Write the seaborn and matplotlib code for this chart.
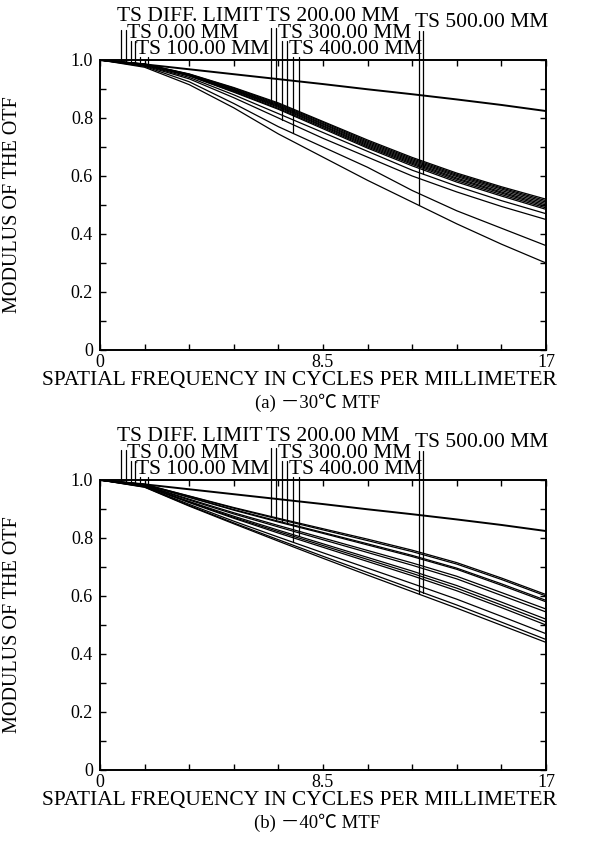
import numpy as np
import pandas as pd
import matplotlib
matplotlib.use("Agg")
import matplotlib.pyplot as plt
import seaborn as sns

# ---------------- data ----------------
freq = [0, 1.7, 3.4, 5.1, 6.8, 8.5, 10.2, 11.9, 13.6, 15.3, 17]
diff_limit = [1.0, 0.985, 0.968, 0.951, 0.934, 0.917, 0.899, 0.882, 0.864, 0.845, 0.824]

# panel (a) -30C : tangential / sagittal for each field
a_0_T = [1.0, 0.986, 0.952, 0.905, 0.852, 0.788, 0.724, 0.664, 0.610, 0.563, 0.520]
a_0_S = [1.0, 0.986, 0.951, 0.903, 0.849, 0.785, 0.720, 0.660, 0.606, 0.559, 0.515]
a_100_T = [1.0, 0.985, 0.950, 0.900, 0.846, 0.781, 0.716, 0.656, 0.602, 0.555, 0.510]
a_100_S = [1.0, 0.985, 0.949, 0.898, 0.843, 0.778, 0.712, 0.652, 0.598, 0.550, 0.505]
a_200_T = [1.0, 0.985, 0.948, 0.896, 0.840, 0.774, 0.708, 0.648, 0.593, 0.545, 0.500]
a_200_S = [1.0, 0.984, 0.947, 0.894, 0.837, 0.771, 0.704, 0.644, 0.589, 0.541, 0.495]
a_300_T = [1.0, 0.980, 0.935, 0.870, 0.800, 0.730, 0.665, 0.600, 0.545, 0.495, 0.450]
a_300_S = [1.0, 0.984, 0.946, 0.891, 0.833, 0.767, 0.700, 0.640, 0.584, 0.536, 0.490]
a_400_T = [1.0, 0.978, 0.925, 0.850, 0.770, 0.700, 0.630, 0.550, 0.480, 0.420, 0.360]
a_400_S = [1.0, 0.984, 0.945, 0.889, 0.830, 0.763, 0.696, 0.635, 0.579, 0.531, 0.485]
a_500_T = [1.0, 0.975, 0.915, 0.835, 0.745, 0.665, 0.585, 0.510, 0.435, 0.365, 0.300]
a_500_S = [1.0, 0.982, 0.940, 0.880, 0.815, 0.750, 0.685, 0.620, 0.565, 0.515, 0.470]

# panel (b) -40C
b_0_T = [1.0, 0.982, 0.934, 0.887, 0.843, 0.800, 0.757, 0.714, 0.668, 0.612, 0.555]
b_0_S = [1.0, 0.981, 0.931, 0.883, 0.838, 0.794, 0.750, 0.706, 0.659, 0.602, 0.545]
b_100_T = [1.0, 0.979, 0.924, 0.871, 0.822, 0.774, 0.726, 0.678, 0.627, 0.569, 0.510]
b_100_S = [1.0, 0.979, 0.922, 0.868, 0.817, 0.768, 0.719, 0.670, 0.618, 0.560, 0.500]
b_200_T = [1.0, 0.985, 0.945, 0.905, 0.868, 0.832, 0.796, 0.758, 0.715, 0.662, 0.605]
b_200_S = [1.0, 0.985, 0.944, 0.903, 0.865, 0.828, 0.791, 0.753, 0.710, 0.657, 0.600]
b_300_T = [1.0, 0.984, 0.941, 0.898, 0.858, 0.819, 0.780, 0.740, 0.696, 0.642, 0.585]
b_300_S = [1.0, 0.984, 0.940, 0.896, 0.855, 0.816, 0.776, 0.736, 0.692, 0.637, 0.580]
b_400_T = [1.0, 0.977, 0.916, 0.858, 0.803, 0.749, 0.696, 0.643, 0.589, 0.530, 0.470]
b_400_S = [1.0, 0.980, 0.926, 0.875, 0.827, 0.780, 0.733, 0.686, 0.636, 0.579, 0.520]
b_500_T = [1.0, 0.975, 0.910, 0.849, 0.789, 0.730, 0.672, 0.615, 0.558, 0.499, 0.440]
b_500_S = [1.0, 0.976, 0.912, 0.852, 0.794, 0.737, 0.681, 0.625, 0.569, 0.510, 0.450]

legend_labels = ["TS DIFF. LIMIT", "TS 0.00 MM", "TS 100.00 MM", "TS 200.00 MM",
                 "TS 300.00 MM", "TS 400.00 MM", "TS 500.00 MM"]
x_ticks = [0, 1.7, 3.4, 5.1, 6.8, 8.5, 10.2, 11.9, 13.6, 15.3, 17]
x_tick_labels = ["0", "", "", "", "", "8.5", "", "", "", "", "17"]
y_ticks = [0, 0.1, 0.2, 0.3, 0.4, 0.5, 0.6, 0.7, 0.8, 0.9, 1.0]
y_tick_labels = ["0", "", "0.2", "", "0.4", "", "0.6", "", "0.8", "", "1.0"]
captions = ["(a) \uff0d30\u2103 MTF", "(b) \uff0d40\u2103 MTF"]

panel_a = [(a_0_T, a_0_S), (a_100_T, a_100_S), (a_200_T, a_200_S),
           (a_300_T, a_300_S), (a_400_T, a_400_S), (a_500_T, a_500_S)]
panel_b = [(b_0_T, b_0_S), (b_100_T, b_100_S), (b_200_T, b_200_S),
           (b_300_T, b_300_S), (b_400_T, b_400_S), (b_500_T, b_500_S)]

# ---------------- layout (positions of legend markers) ----------------
marker_x = [(0.80, 0.99), (1.18, 1.33), (1.52, 1.83), (6.50, 6.72),
            (6.94, 7.14), (7.36, 7.57), (12.16, 12.31)]
label_base = [1.134, 1.076, 1.021, 1.134, 1.076, 1.021, 1.114]
marker_top = [1.103, 1.065, 1.010, 1.110, 1.065, 1.010, 1.100]

sns.set_theme(style="ticks")
plt.rcParams["font.family"] = ["Liberation Serif", "Noto Sans CJK SC", "DejaVu Sans"]
plt.rcParams["axes.linewidth"] = 1.4
plt.rcParams["text.color"] = "black"
plt.rcParams["axes.labelcolor"] = "black"
plt.rcParams["xtick.color"] = "black"
plt.rcParams["ytick.color"] = "black"
plt.rcParams["axes.edgecolor"] = "black"

fig = plt.figure(figsize=(6.0, 8.41), dpi=100)
W, H = 600.0, 841.0
axes_px = [(60, 350), (480, 770)]  # top, bottom pixel rows
panels = [panel_a, panel_b]

for (top, bot), pdata, cap in zip(axes_px, panels, captions):
    ax = fig.add_axes([100 / W, (H - bot) / H, 446 / W, (bot - top) / H])
    ax.set_facecolor("white")
    # curves
    sns.lineplot(x=freq, y=diff_limit, ax=ax, color="black", lw=1.4,
                 estimator=None, sort=False)
    for t_vals, s_vals in pdata:
        for vals in (t_vals, s_vals):
            sns.lineplot(x=freq, y=vals, ax=ax, color="black", lw=0.9,
                         estimator=None, sort=False)
    # legend markers
    curves_for = [(diff_limit, diff_limit)] + list(pdata)
    for lab, (xt, xs), (ct, cs), yb, yt in zip(legend_labels, marker_x, curves_for,
                                               label_base, marker_top):
        for xm, cv in ((xt, ct), (xs, cs)):
            yv = float(np.interp(xm, freq, cv))
            ax.plot([xm, xm], [yv, yt], color="black", lw=0.9, clip_on=False)
        ax.text(xt - 0.16, yb, lab, ha="left", va="baseline", fontsize=15.5,
                color="black", clip_on=False)

    ax.set_xlim(0, 17)
    ax.set_ylim(0, 1.0)
    ax.set_xticks(x_ticks)
    ax.set_xticklabels(x_tick_labels, fontsize=13)
    ax.set_yticks(y_ticks)
    ax.set_yticklabels(y_tick_labels, fontsize=13)
    ax.tick_params(direction="in", top=True, right=True, length=4.5, width=1.0,
                   colors="black")
    ax.tick_params(axis="y", pad=5)
    ax.tick_params(axis="x", pad=3)
    for sp in ax.spines.values():
        sp.set_visible(True)
        sp.set_color("black")
        sp.set_linewidth(1.4)
    ax.set_xlabel("SPATIAL FREQUENCY IN CYCLES PER MILLIMETER", fontsize=15.5,
                  va="top", color="black")
    ax.xaxis.set_label_coords(0.448, -0.072)
    ax.set_ylabel("MODULUS OF THE OTF", fontsize=14.5, color="black")
    ax.yaxis.set_label_coords(-0.175, 0.5)
    ax.text(0.487, -0.150, cap, transform=ax.transAxes, ha="center", va="top",
            fontsize=13.5, color="black")

fig.savefig("out.png", dpi=100, facecolor="white")
